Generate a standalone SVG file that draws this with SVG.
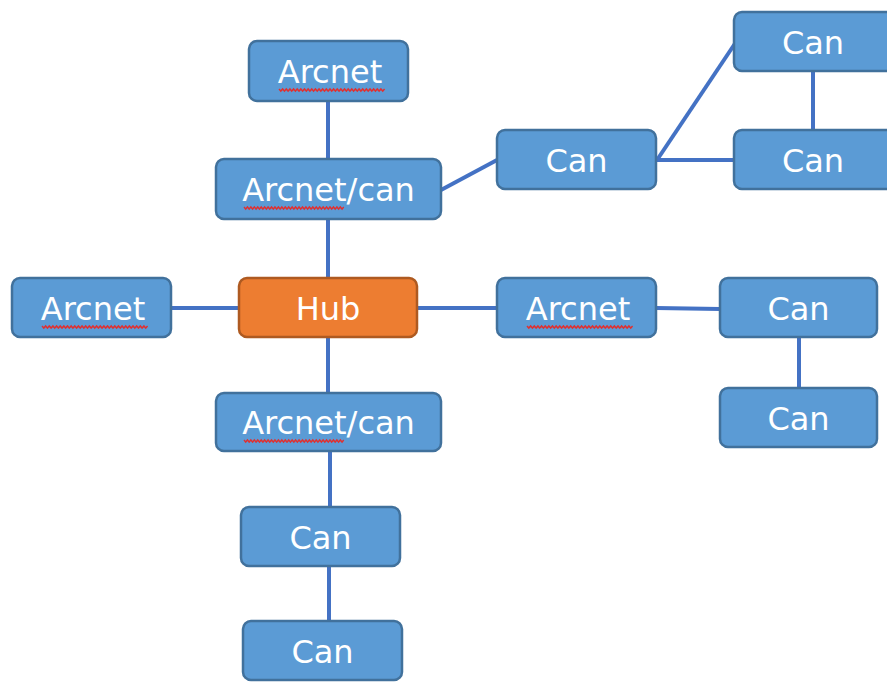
<svg xmlns="http://www.w3.org/2000/svg" width="887" height="682" viewBox="0 0 887 682">
  <defs>
    <style>
      .box { fill: #5B9BD5; stroke: #41719C; stroke-width: 2.5; }
      .hub { fill: #ED7D31; stroke: #AE5A21; stroke-width: 2.5; }
      .lbl { fill: #FFFFFF; font-family: "DejaVu Sans", Verdana, sans-serif; font-size: 32px; text-anchor: middle; }
      .wire { stroke: #4472C4; stroke-width: 4; fill: none; }
      .squig { stroke: #E03030; stroke-width: 1.6; fill: none; }
    </style>
    <!-- spell-check wave under "Arcnet" -->
    <path id="wave" d="M0,0 l2,2 l2,-2 l2,2 l2,-2 l2,2 l2,-2 l2,2 l2,-2 l2,2 l2,-2 l2,2 l2,-2 l2,2 l2,-2 l2,2 l2,-2 l2,2 l2,-2 l2,2 l2,-2 l2,2 l2,-2 l2,2 l2,-2 l2,2 l2,-2 l2,2 l2,-2 l2,2 l2,-2 l2,2 l2,-2 l2,2 l2,-2 l2,2 l2,-2 l2,2 l2,-2 l2,2 l2,-2 l2,2 l2,-2 l2,2 l2,-2 l2,2 l2,-2 l2,2 l2,-2 l2,2 l2,-2 l2,2 l2,-2 l2,2 l2,-2 l2,2 l2,-2 l2,2 l2,-2"/>
  </defs>

  <rect width="887" height="682" fill="#FFFFFF"/>

  <g id="connectors">
    <line class="wire" x1="328" y1="101" x2="328" y2="159"/>
    <line class="wire" x1="328" y1="219" x2="328" y2="278"/>
    <line class="wire" x1="441" y1="190" x2="497" y2="160"/>
    <line class="wire" x1="657" y1="160" x2="736" y2="42"/>
    <line class="wire" x1="657" y1="160" x2="734" y2="160"/>
    <line class="wire" x1="813" y1="71" x2="813" y2="130"/>
    <line class="wire" x1="171" y1="308" x2="239" y2="308"/>
    <line class="wire" x1="417" y1="308" x2="497" y2="308"/>
    <line class="wire" x1="656" y1="308" x2="720" y2="309"/>
    <line class="wire" x1="799" y1="337" x2="799" y2="388"/>
    <line class="wire" x1="328" y1="337" x2="328" y2="393"/>
    <line class="wire" x1="330" y1="451" x2="330" y2="507"/>
    <line class="wire" x1="329" y1="566" x2="329" y2="621"/>
  </g>

  <g id="arcnet-top">
    <rect class="box" x="249" y="41" width="159" height="60" rx="8"/>
    <text class="lbl" x="330" y="83">Arcnet</text>
    <use href="#wave" class="squig" transform="translate(279,89) scale(0.91,1)"/>
  </g>

  <g id="arcnet-can-top">
    <rect class="box" x="216" y="159" width="225" height="60" rx="8"/>
    <text class="lbl" x="328.5" y="201">Arcnet/can</text>
    <use href="#wave" class="squig" transform="translate(244,207) scale(0.86,1)"/>
  </g>

  <g id="can-mid">
    <rect class="box" x="497" y="130" width="159" height="59" rx="8"/>
    <text class="lbl" x="576.5" y="172">Can</text>
  </g>

  <g id="can-top-right">
    <rect class="box" x="734" y="12" width="160" height="59" rx="8"/>
    <text class="lbl" x="813" y="54">Can</text>
  </g>

  <g id="can-right">
    <rect class="box" x="734" y="130" width="160" height="59" rx="8"/>
    <text class="lbl" x="813" y="172">Can</text>
  </g>

  <g id="arcnet-left">
    <rect class="box" x="12" y="278" width="159" height="59" rx="8"/>
    <text class="lbl" x="93" y="320">Arcnet</text>
    <use href="#wave" class="squig" transform="translate(42,326) scale(0.91,1)"/>
  </g>

  <g id="hub">
    <rect class="hub" x="239" y="278" width="178" height="59" rx="8"/>
    <text class="lbl" x="328" y="320">Hub</text>
  </g>

  <g id="arcnet-right">
    <rect class="box" x="497" y="278" width="159" height="59" rx="8"/>
    <text class="lbl" x="578" y="320">Arcnet</text>
    <use href="#wave" class="squig" transform="translate(527,326) scale(0.91,1)"/>
  </g>

  <g id="can-right-mid">
    <rect class="box" x="720" y="278" width="157" height="59" rx="8"/>
    <text class="lbl" x="798.5" y="320">Can</text>
  </g>

  <g id="can-right-low">
    <rect class="box" x="720" y="388" width="157" height="59" rx="8"/>
    <text class="lbl" x="798.5" y="430">Can</text>
  </g>

  <g id="arcnet-can-bottom">
    <rect class="box" x="216" y="393" width="225" height="58" rx="8"/>
    <text class="lbl" x="328.5" y="434">Arcnet/can</text>
    <use href="#wave" class="squig" transform="translate(244,440) scale(0.86,1)"/>
  </g>

  <g id="can-lower">
    <rect class="box" x="241" y="507" width="159" height="59" rx="8"/>
    <text class="lbl" x="320.5" y="549">Can</text>
  </g>

  <g id="can-bottom">
    <rect class="box" x="243" y="621" width="159" height="59" rx="8"/>
    <text class="lbl" x="322.5" y="663">Can</text>
  </g>
</svg>
